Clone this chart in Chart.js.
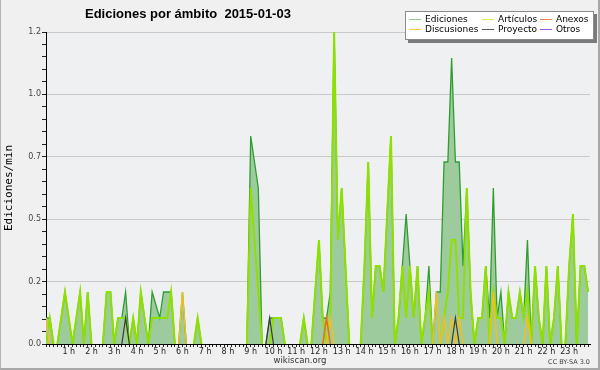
<!DOCTYPE html>
<html><head><meta charset="utf-8">
<script src="https://cdn.jsdelivr.net/npm/chart.js@4.4.0/dist/chart.umd.min.js"></script>
<style>
html,body{margin:0;padding:0;background:#f0f0f0;}
#wrap{position:relative;width:600px;height:370px;overflow:hidden;background:#f0f0f0;}
#wrap canvas{position:absolute;left:0;top:0;}
.frame{position:absolute;left:0;top:0;width:600px;height:370px;box-sizing:border-box;border-left:1px solid #b4b4b4;border-right:2px solid #a8a8a8;border-bottom:2px solid #a8a8a8;pointer-events:none;}
.t{position:absolute;white-space:nowrap;}
#title{left:85px;top:6px;font:bold 13px "Liberation Sans";color:#000;}
#site{left:0;width:600px;text-align:center;top:355px;font:8.5px "DejaVu Sans";color:#333;}
#lic{right:10px;top:358px;font:6.5px "DejaVu Sans";color:#444;}
#legend{position:absolute;left:405px;top:11px;width:187px;height:27px;background:#fff;border:1px solid #8a8a8a;box-shadow:3px 3px 0 #7a7a7a;}
.li{position:absolute;font:9px "DejaVu Sans";color:#000;line-height:11px;white-space:nowrap;}
.li i{position:absolute;left:-16px;top:5px;width:12px;height:1px;}
</style></head>
<body>
<div id="wrap">
<canvas id="c" width="600" height="370"></canvas>
<div class="t" id="title">Ediciones por ámbito&nbsp;&nbsp;2015-01-03</div>
<div id="legend"></div>
<div class="t" id="site">wikiscan.org</div>
<div class="t" id="lic">CC BY-SA 3.0</div>
<div class="frame"></div>
</div>
<script>
// 10-minute bins (minutes from 00:00)
const stepMinutes = 10;
const ediciones = [
0.1,0.1,0,0,0.1,0.2,0.1,0,0.1,0.2,
0,0.2,0,0,0,0,0.2,0.2,0,0.1,
0.1,0.2,0,0.1,0,0.2,0.1,0,0.2,0.15,
0.1,0.2,0.2,0.2,0,0,0.2,0,0,0,
0.1,0,0,0,0,0,0,0,0,0,
0,0,0,0,0.8,0.7,0.6,0,0,0.1,
0.1,0.1,0.1,0,0,0,0,0,0.1,0,
0,0.2,0.4,0.1,0.1,0.2,1.2,0.4,0.6,0.3,
0,0,0,0,0.3,0.7,0.1,0.3,0.3,0.2,
0.5,0.8,0,0.1,0.3,0.5,0.3,0.1,0.3,0,
0.1,0.3,0,0.2,0.2,0.7,0.7,1.1,0.7,0.7,
0.3,0.6,0.2,0,0.1,0.1,0.3,0.1,0.6,0.1,
0.2,0,0.2,0.1,0.1,0.2,0.1,0.4,0,0.3,
0.1,0,0.3,0,0.1,0.3,0,0,0.3,0.5,
0,0.3,0.3,0.2];
const articulos = [
0,0.1,0,0,0.1,0.2,0.1,0,0.1,0.2,
0,0.2,0,0,0,0,0.2,0.2,0,0.1,
0.1,0.1,0,0.1,0,0.2,0.1,0,0.1,0.1,
0.1,0.1,0.1,0.2,0,0,0,0,0,0,
0.1,0,0,0,0,0,0,0,0,0,
0,0,0,0,0.6,0.4,0.2,0,0,0,
0.1,0.1,0.1,0,0,0,0,0,0.1,0,
0,0.2,0.4,0.1,0,0.1,1.2,0.4,0.6,0.3,
0,0,0,0,0.3,0.7,0.1,0.3,0.3,0.2,
0.5,0.8,0,0.1,0.3,0.1,0.3,0.1,0.3,0,
0.1,0.2,0,0,0,0.1,0.2,0.4,0.4,0.1,
0.1,0.6,0.2,0,0.1,0.1,0.3,0,0.2,0.1,
0.1,0,0.2,0.1,0.1,0.2,0.1,0.2,0,0.3,
0.1,0,0.3,0,0.1,0.3,0,0,0.3,0.5,
0,0.3,0.3,0.2];
const discusiones = [
0.1,0,0,0,0,0,0,0,0,0,
0,0,0,0,0,0,0,0,0,0,
0,0,0,0,0,0,0,0,0,0,
0,0,0,0,0,0,0.2,0,0,0,
0,0,0,0,0,0,0,0,0,0,
0,0,0,0,0,0,0,0,0,0,
0,0,0,0,0,0,0,0,0,0,
0,0,0,0,0,0.1,0,0,0,0,
0,0,0,0,0,0,0,0,0,0,
0,0,0,0,0,0,0,0,0,0,
0,0,0,0.2,0,0.1,0,0.1,0,0.1,
0,0,0,0,0,0,0,0,0.2,0,
0,0,0,0,0,0,0,0.1,0,0,
0,0,0,0,0,0,0,0,0,0,
0,0,0,0];
const proyecto = [
0,0,0,0,0,0,0,0,0,0,
0,0,0,0,0,0,0,0,0,0,
0,0.1,0,0,0,0,0,0,0,0,
0,0,0,0,0,0,0,0,0,0,
0,0,0,0,0,0,0,0,0,0,
0,0,0,0,0,0,0,0,0,0.1,
0,0,0,0,0,0,0,0,0,0,
0,0,0,0,0,0,0,0,0,0,
0,0,0,0,0,0,0,0,0,0,
0,0,0,0,0,0,0,0,0,0,
0,0,0,0,0,0,0,0,0.1,0,
0,0,0,0,0,0,0,0,0,0,
0,0,0,0,0,0,0,0,0,0,
0,0,0,0,0,0,0,0,0,0,
0,0,0,0];
const anexos = [
0,0,0,0,0,0,0,0,0,0,
0,0,0,0,0,0,0,0,0,0,
0,0,0,0,0,0,0,0,0,0,
0,0,0,0,0,0,0,0,0,0,
0,0,0,0,0,0,0,0,0,0,
0,0,0,0,0,0,0,0,0,0,
0,0,0,0,0,0,0,0,0,0,
0,0,0,0,0.1,0,0,0,0,0,
0,0,0,0,0,0,0,0,0,0,
0,0,0,0,0,0,0,0,0,0,
0,0,0,0,0,0,0,0,0,0,
0,0,0,0,0,0,0,0,0,0,
0,0,0,0,0,0,0,0,0,0,
0,0,0,0,0,0,0,0,0,0,
0,0,0,0];
const otros = [
0,0,0,0,0,0,0,0,0,0, 0,0,0,0,0,0,0,0,0,0, 0,0,0,0,0,0,0,0,0,0,
0,0,0,0,0,0,0,0,0,0, 0,0,0,0,0,0,0,0,0,0, 0,0,0,0,0,0,0,0,0,0,
0,0,0,0,0,0,0,0,0,0, 0,0,0,0,0,0,0,0,0,0, 0,0,0,0,0,0,0,0,0,0,
0,0,0,0,0,0,0,0,0,0, 0,0,0,0,0,0,0,0,0,0, 0,0,0,0,0,0,0,0,0,0,
0,0,0,0,0,0,0,0,0,0, 0,0,0,0,0,0,0,0,0,0, 0,0,0,0];
const yTickLabels = ['0.0','0.2','0.5','0.7','1.0','1.2'];

const legendItems = [
  ['Ediciones','#8fcf8f'],['Discusiones','#ffcc44'],
  ['Artículos','#cdee55'],['Proyecto','#555555'],
  ['Anexos','#ee8855'],['Otros','#9955ee']];

// legend (HTML)
const lg = document.getElementById('legend');
const colX = [19, 92, 150], rowY = [2, 12];
legendItems.forEach((it, k) => {
  const d = document.createElement('div');
  d.className = 'li';
  d.style.left = colX[Math.floor(k/2)] + 'px';
  d.style.top = rowY[k%2] + 'px';
  d.innerHTML = '<i style="background:' + it[1] + '"></i>' + it[0];
  lg.appendChild(d);
});

const pts = arr => arr.map((v, i) => ({x: i*stepMinutes, y: v}));
const hideFlat = ctx => (ctx.p0.parsed.y === 0 && ctx.p1.parsed.y === 0) ? 'rgba(0,0,0,0)' : undefined;
const ds = (label, data, color, width, order, extra) => Object.assign({
  label, data: pts(data), borderColor: color, borderWidth: width, order,
  fill: false, pointRadius: 0, tension: 0, segment: {borderColor: hideFlat}
}, extra || {});

const bg = {id:'bg', beforeDraw(c){const {ctx, chartArea:a}=c; ctx.save(); ctx.fillStyle='#eef0f2'; ctx.fillRect(a.left,a.top,a.right-a.left,a.bottom-a.top); ctx.restore();}};

new Chart(document.getElementById('c'), {
  type: 'line',
  data: { datasets: [
    ds('Ediciones', ediciones, '#2f9e2f', 1.3, 6, {fill:'origin', backgroundColor:'#9ecb9e'}),
    ds('Artículos', articulos, '#8fe000', 2, 5),
    ds('Discusiones', discusiones, '#f0c020', 1.5, 4),
    ds('Anexos', anexos, '#ee6a1a', 1.5, 3),
    ds('Proyecto', proyecto, '#3a3a3a', 1.2, 2),
    ds('Otros', otros, '#9933ee', 1.2, 1)
  ]},
  options: {
    responsive:false, animation:false, devicePixelRatio:1,
    layout:{padding:{top:32,right:10,bottom:0,left:0}},
    plugins:{legend:{display:false}, tooltip:{enabled:false}},
    scales:{
      x:{type:'linear', min:0, max:1435, z:1,
        afterFit(s){ s.height = 26; },
        grid:{drawOnChartArea:false, drawTicks:true, tickLength:3, tickColor:'#222'},
        border:{display:true, color:'#000', width:1},
        ticks:{stepSize:10, autoSkip:false, includeBounds:false, maxRotation:0, minRotation:0, padding:0,
          color:'#222', font:{family:'DejaVu Sans', size:8},
          callback:(v)=> (v>0 && v%60===0) ? (v/60)+' h' : ''}},
      y:{min:0, max:1.2,
        afterFit(s){ s.width = 46; },
        grid:{color:ctx => ctx.index%5===0 ? '#c9c9c9' : 'rgba(0,0,0,0)', tickColor:'#222', tickLength:4},
        border:{display:true, color:'#000'},
        ticks:{stepSize:0.048, autoSkip:false, padding:1, color:'#444', font:{family:'DejaVu Sans', size:8},
          callback:(v,i)=> i%5===0 ? yTickLabels[i/5] : ''},
        title:{display:true, text:'Ediciones/min', color:'#000', font:{family:'DejaVu Sans Mono', size:11}, padding:{top:3,bottom:0}}}
    }
  },
  plugins:[bg]
});
</script>
</body></html>
